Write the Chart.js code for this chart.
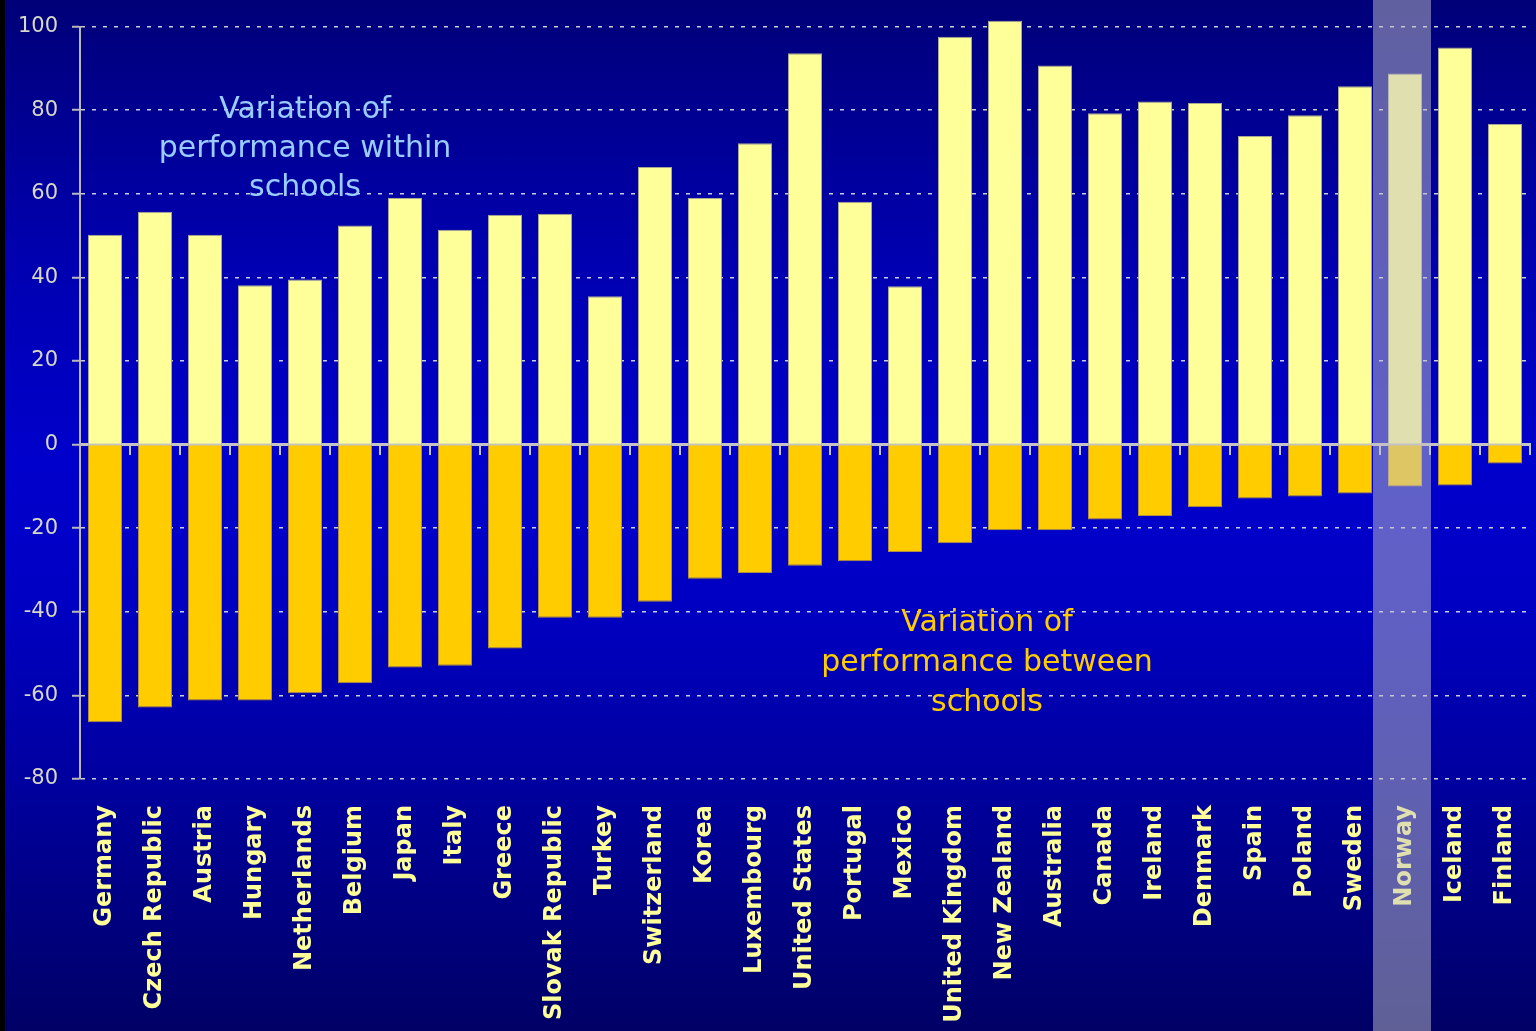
<!DOCTYPE html>
<html>
<head>
<meta charset="utf-8">
<script src="https://cdn.jsdelivr.net/npm/chart.js@4.4.1/dist/chart.umd.min.js"></script>
<style>
  html, body { margin: 0; padding: 0; }
  body {
    width: 1536px; height: 1031px; overflow: hidden; position: relative;
    background: linear-gradient(to bottom, #000078 0%, #0000b0 25%, #0000cc 45%, #0000c4 58%, #00009a 78%, #000066 100%);
  }
  #edge { position: absolute; left: 0; top: 0; width: 5px; height: 1031px; background: #000; }
  #wrap { position: absolute; left: 0; top: 0; width: 1536px; height: 1031px; }
</style>
</head>
<body>
<div id="wrap"><canvas id="chart"></canvas></div>
<div id="edge"></div>
<script>
const countries = ['Germany', 'Czech Republic', 'Austria', 'Hungary', 'Netherlands', 'Belgium', 'Japan',
  'Italy', 'Greece', 'Slovak Republic', 'Turkey', 'Switzerland', 'Korea', 'Luxembourg', 'United States',
  'Portugal', 'Mexico', 'United Kingdom', 'New Zealand', 'Australia', 'Canada', 'Ireland', 'Denmark',
  'Spain', 'Poland', 'Sweden', 'Norway', 'Iceland', 'Finland'];

// within-school variance (up), between-school variance (down)
const withinSchools = [50.2, 55.7, 50.2, 38.1, 39.5, 52.4, 59.0, 51.4, 55.0, 55.2, 35.5, 66.4, 59.0, 72.1,
  93.6, 58.1, 37.9, 97.6, 101.4, 90.7, 79.3, 82.1, 81.7, 73.8, 78.8, 85.7, 88.8, 95.0, 76.7];
const betweenSchools = [-66.4, -62.9, -61.2, -61.2, -59.5, -57.1, -53.3, -52.9, -48.8, -41.4, -41.4, -37.6,
  -32.1, -30.7, -29.0, -27.9, -25.7, -23.6, -20.5, -20.5, -17.9, -17.1, -15.0, -12.9, -12.4, -11.7, -10.0,
  -9.8, -4.5];

const highlighted = 'Norway';
const withinLabel = ['Variation of', 'performance within', 'schools'];
const betweenLabel = ['Variation of', 'performance between', 'schools'];

const textFont = '"DejaVu Sans", sans-serif';

const overlayPlugin = {
  id: 'overlay',
  afterDraw(chart) {
    const ctx = chart.ctx;
    const x = chart.scales.x;
    const area = chart.chartArea;

    ctx.save();
    ctx.textAlign = 'center';
    ctx.textBaseline = 'middle';
    ctx.font = '30px ' + textFont;
    ctx.fillStyle = '#99ccff';
    withinLabel.forEach((line, i) => ctx.fillText(line, area.left + 225, area.top + 84 + i * 39));
    ctx.fillStyle = '#ffcc00';
    betweenLabel.forEach((line, i) => ctx.fillText(line, area.left + 907, area.top + 597 + i * 40));

    // highlight column
    const cx = x.getPixelForValue(countries.indexOf(highlighted));
    ctx.fillStyle = 'rgba(192,192,200,0.5)';
    ctx.fillRect(cx - 32, 0, 58, chart.height);
    ctx.restore();
  }
};

new Chart(document.getElementById('chart'), {
  type: 'bar',
  data: {
    labels: countries,
    datasets: [
      {
        label: 'Within schools',
        data: withinSchools,
        backgroundColor: '#ffff99',
        borderColor: '#a8a890',
        borderWidth: 1,
        clip: false,
      },
      {
        label: 'Between schools',
        data: betweenSchools,
        backgroundColor: '#ffcc00',
        borderColor: '#b09040',
        borderWidth: 1,
        clip: false,
      },
    ],
  },
  options: {
    responsive: true,
    maintainAspectRatio: false,
    animation: false,
    categoryPercentage: 1,
    barPercentage: 0.68,
    layout: { padding: { top: 23, right: 6, left: 0, bottom: 0 } },
    plugins: {
      legend: { display: false },
      tooltip: { enabled: false },
    },
    scales: {
      x: {
        stacked: true,
        position: 'bottom',
        grid: { display: false },
        border: { display: false },
        ticks: {
          color: '#ffff99',
          autoSkip: false,
          maxRotation: 90,
          minRotation: 90,
          padding: 18,
          font: { family: textFont, size: 24, weight: 'bold' },
        },
        afterFit(scale) {
          scale.height = 252;
          scale.paddingLeft = 0;
          scale.paddingRight = 0;
        },
      },
      zero: {
        type: 'category',
        axis: 'x',
        position: { y: 0 },
        offset: true,
        z: 1,
        ticks: { display: false },
        grid: {
          offset: true,
          drawOnChartArea: false,
          drawTicks: true,
          tickLength: 9,
          color: '#c4c4c4',
          lineWidth: 2,
        },
        border: { display: true, color: '#c4c4c4', width: 3 },
      },
      y: {
        stacked: true,
        min: -80,
        max: 100,
        ticks: {
          stepSize: 20,
          color: '#d8d8c8',
          padding: 14,
          font: { family: textFont, size: 21 },
        },
        grid: {
          color: (c) => (c.tick && c.tick.value === 0 ? 'rgba(0,0,0,0)' : 'rgba(225,225,225,0.9)'),
          lineWidth: 1.5,
          drawTicks: true,
          tickLength: 8,
          tickColor: '#b8b8b8',
          tickWidth: 2,
          tickBorderDash: [],
        },
        border: { display: true, color: '#b8b8b8', width: 2, dash: [4, 7] },
        afterFit(scale) { scale.width = 80; },
      },
    },
  },
  plugins: [overlayPlugin],
});
</script>
</body>
</html>
